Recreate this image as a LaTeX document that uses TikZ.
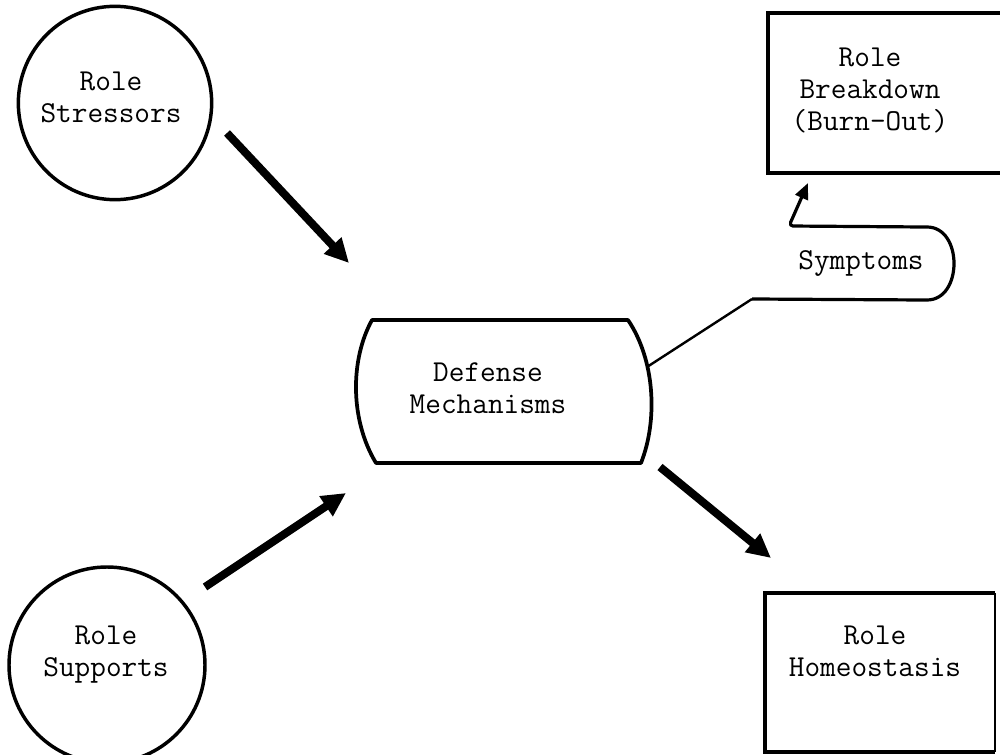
\documentclass[tikz,border=0pt]{standalone}
\usepackage{fontspec}
\usetikzlibrary{arrows.meta}
\begin{document}
\begin{tikzpicture}[x=0.75pt,y=-0.75pt,
  lbl/.style={font=\ttfamily\fontsize{22.8}{24}\selectfont,align=center,inner sep=0pt},
  ring/.style={circle,draw,line width=2.6pt,inner sep=0pt,minimum size=#1},
  fat/.style={line width=6pt,-{Triangle[length=18pt,width=17pt]}},
  boxline/.style={line width=2.6pt,line join=miter}]
\useasboundingbox (0,0) rectangle (1000,755);
% circles
\node[ring=145pt] (rs) at (115,103) {};
\node[lbl] (rsl) at (111,97) {Role\\Stressors};
\node[ring=147pt] (rp) at (107,665) {};
\node[lbl] (rpl) at (106,655) {Role\\Supports};
% defense shape
\node[minimum width=300*0.75pt,minimum height=145*0.75pt] (dm) at (502,391) {};
\draw[line width=2.8pt,line join=round]
  (372,320) -- (628,320)
  .. controls (655,360) and (658,420) .. (641,463)
  -- (376,463)
  .. controls (350,420) and (350,360) .. (372,320) -- cycle;
\node[lbl] (dml) at (488,388) {Defense\\Mechanisms};
% boxes
\draw[boxline] (1002,13) -- (768,13) -- (768,173) -- (1002,173);
\node[inner sep=0pt,minimum width=234*0.75pt,minimum height=160*0.75pt] (rb) at (885,93) {};
\node[lbl] (rbl) at (870,90) {Role\\Breakdown\\(Burn-Out)};
\draw[boxline] (995,593) -- (765,593) -- (765,752) -- (995,752);
\draw[line width=1pt] (995,593) -- (995,752);
\node[inner sep=0pt,minimum width=230*0.75pt,minimum height=159*0.75pt] (rh) at (880,672) {};
\node[lbl] (rhl) at (875,651) {Role\\Homeostasis};
% fat arrows
\coordinate (a1s) at (227,133);
\coordinate (a1e) at (349,263);
\coordinate (a2s) at (205,587);
\coordinate (a2e) at (346,493);
\coordinate (a3s) at (660,467);
\coordinate (a3e) at (771,558);
\draw[fat] (a1s) -- (a1e);
\draw[fat] (a2s) -- (a2e);
\draw[fat] (a3s) -- (a3e);
% symptoms path
\coordinate (s0) at (647,367);
\coordinate (s1) at (752,299);
\coordinate (s2) at (923,300);
\coordinate (s3) at (923,227);
\coordinate (s4) at (789,226);
\coordinate (s5) at (808,183);
\draw[line width=1.8pt] (s0) -- (s1);
\draw[line width=2.4pt,line join=round,rounded corners=3pt,-{Triangle[length=12pt,width=10pt]}]
  (s1) -- (s2) .. controls (963,300) and (963,227) .. (s3) -- (s4) -- (s5);
\node[lbl] (sym) at (861,263) {Symptoms};
\end{tikzpicture}
\end{document}
